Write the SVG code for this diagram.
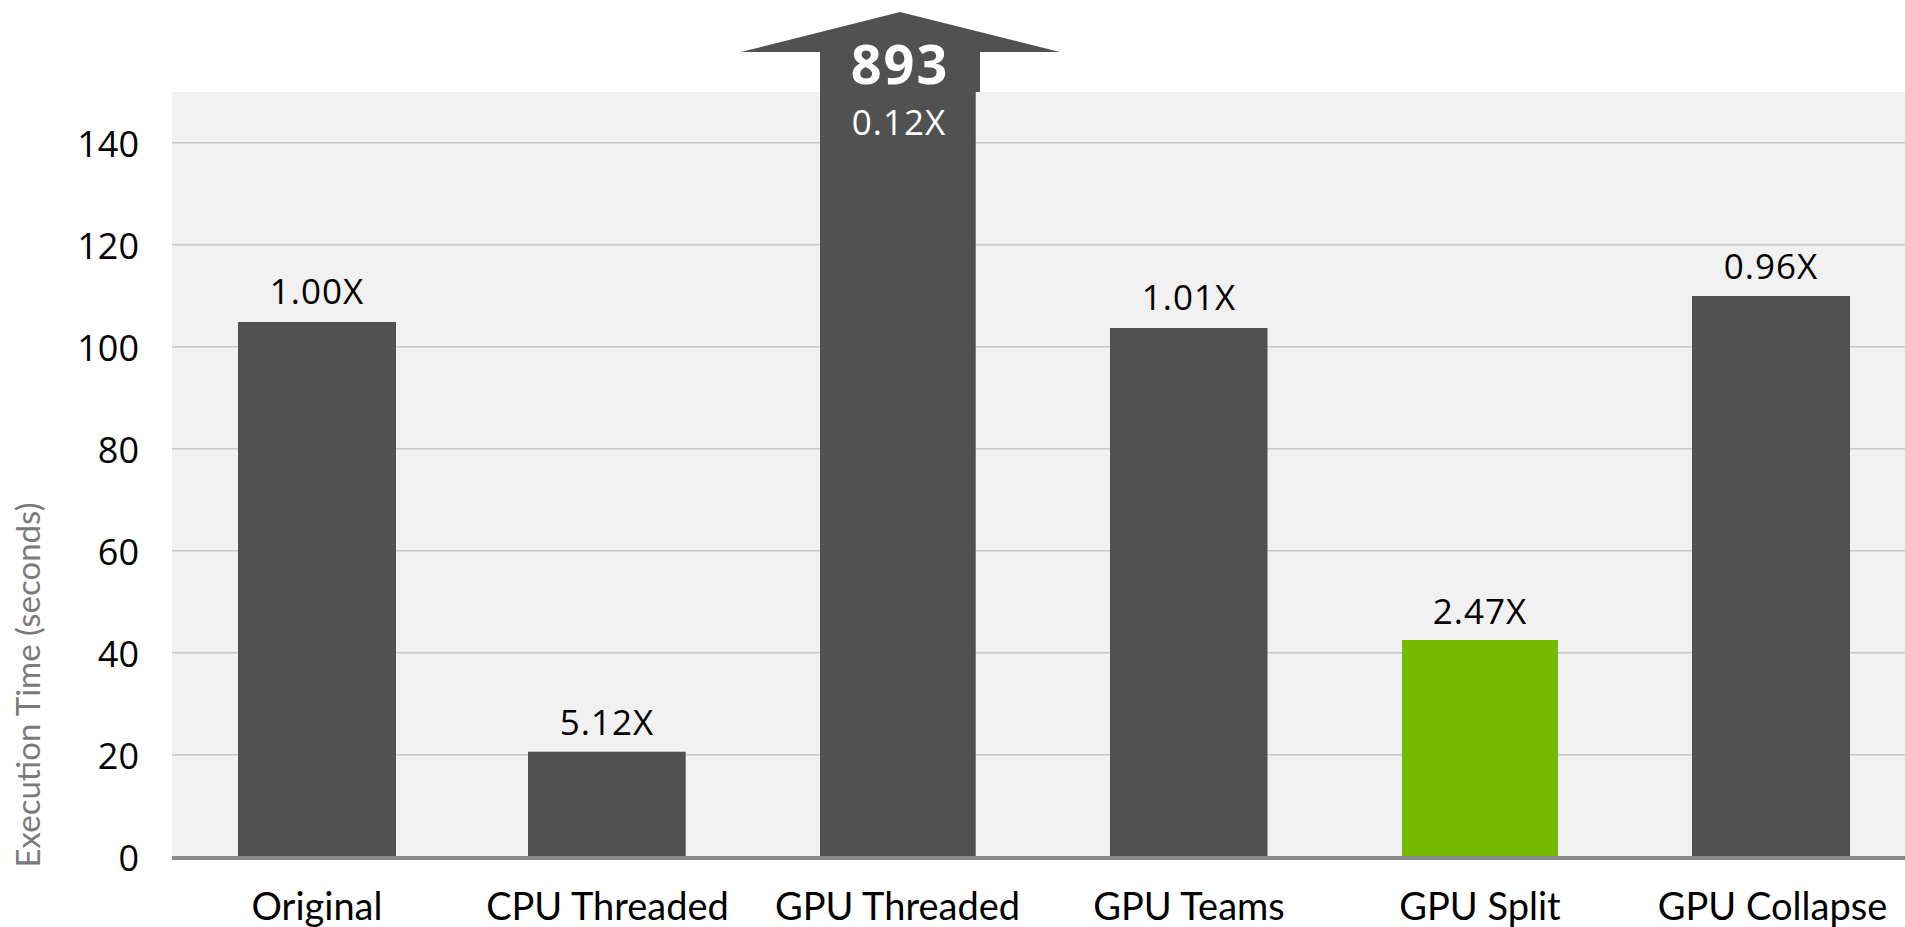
<svg xmlns="http://www.w3.org/2000/svg" width="1905" height="927" viewBox="0 0 1905 927">
  <style>
    .bg { fill: #f1f1f1; }
    .grid { stroke: #c8c8c8; stroke-width: 1.5; }
    .axis { stroke: #8a8a8a; stroke-width: 4; }
    .bar { fill: #515151; }
    .bar-hi { fill: #76b900; }
    .tick { font-family: "Open Sans", "Liberation Sans", sans-serif; font-size: 36px; fill: #000; text-anchor: end; }
    .val { font-family: "Open Sans", "Liberation Sans", sans-serif; font-size: 35px; fill: #000; text-anchor: middle; letter-spacing: 1px; }
    .val-w { font-family: "Open Sans", "Liberation Sans", sans-serif; font-size: 35px; fill: #fff; text-anchor: middle; letter-spacing: 1px; }
    .big { font-family: "Open Sans", "Liberation Sans", sans-serif; font-size: 54px; font-weight: bold; fill: #fff; text-anchor: middle; letter-spacing: 2px; }
    .cat { font-family: Lato, "Open Sans", sans-serif; font-size: 38px; fill: #000; text-anchor: middle; }
    .ytitle { font-family: Lato, "Open Sans", sans-serif; font-size: 33px; fill: #7a7a7a; text-anchor: middle; }
    .paren { font-family: "Open Sans", "Liberation Sans", sans-serif; font-size: 40px; fill: #000; }
  </style>

  <!-- tails of the subtitle brackets running off the top edge -->
  <text class="paren" x="1016" y="-6">(</text>
  <text class="paren" x="1788" y="-6">)</text>

  <!-- plot area -->
  <rect class="bg" x="172" y="92" width="1733" height="765"/>

  <!-- horizontal gridlines, 20 s apart -->
  <g id="gridlines">
    <line class="grid" x1="172" y1="142.7" x2="1905" y2="142.7"/>
    <line class="grid" x1="172" y1="244.7" x2="1905" y2="244.7"/>
    <line class="grid" x1="172" y1="346.7" x2="1905" y2="346.7"/>
    <line class="grid" x1="172" y1="448.7" x2="1905" y2="448.7"/>
    <line class="grid" x1="172" y1="550.7" x2="1905" y2="550.7"/>
    <line class="grid" x1="172" y1="652.7" x2="1905" y2="652.7"/>
    <line class="grid" x1="172" y1="754.7" x2="1905" y2="754.7"/>
  </g>

  <!-- y axis tick labels -->
  <g id="y-ticks">
    <text class="tick" x="139" y="156.5">140</text>
    <text class="tick" x="139" y="258.5">120</text>
    <text class="tick" x="139" y="360.5">100</text>
    <text class="tick" x="139" y="462.5">80</text>
    <text class="tick" x="139" y="564.5">60</text>
    <text class="tick" x="139" y="666.5">40</text>
    <text class="tick" x="139" y="768.5">20</text>
    <text class="tick" x="139" y="870.5">0</text>
  </g>

  <text id="y-title" class="ytitle" transform="translate(39.5,685) rotate(-90)">Execution Time  (seconds)</text>

  <!-- bars -->
  <g id="bar-original">
    <rect class="bar" x="238" y="322" width="158" height="535"/>
    <text class="val" x="317" y="303.5">1.00X</text>
  </g>
  <g id="bar-cpu-threaded">
    <rect class="bar" x="528" y="751.7" width="157.7" height="105.3"/>
    <text class="val" x="607" y="734.5">5.12X</text>
  </g>
  <g id="bar-gpu-threaded">
    <rect class="bar" x="820" y="92" width="155.7" height="765"/>
    <!-- off-scale arrow: value exceeds the axis -->
    <polygon class="bar" points="900,12 1060,52 980,52 980,92 820,92 820,52 741,52"/>
    <text class="big" x="900" y="83.5">893</text>
    <text class="val-w" x="899" y="135">0.12X</text>
  </g>
  <g id="bar-gpu-teams">
    <rect class="bar" x="1110" y="328" width="157.5" height="529"/>
    <text class="val" x="1189" y="309.5">1.01X</text>
  </g>
  <g id="bar-gpu-split">
    <rect class="bar-hi" x="1402" y="640" width="156" height="217"/>
    <text class="val" x="1480" y="623.5">2.47X</text>
  </g>
  <g id="bar-gpu-collapse">
    <rect class="bar" x="1692" y="296" width="158" height="561"/>
    <text class="val" x="1771" y="278.5">0.96X</text>
  </g>

  <!-- x axis -->
  <line class="axis" x1="172" y1="858" x2="1905" y2="858"/>

  <!-- category labels -->
  <g id="x-labels">
    <text class="cat" x="317" y="920">Original</text>
    <text class="cat" x="607.5" y="920">CPU Threaded</text>
    <text class="cat" x="897.5" y="920">GPU Threaded</text>
    <text class="cat" x="1189" y="920">GPU Teams</text>
    <text class="cat" x="1480" y="920">GPU Split</text>
    <text class="cat" x="1772.5" y="920">GPU Collapse</text>
  </g>
</svg>
